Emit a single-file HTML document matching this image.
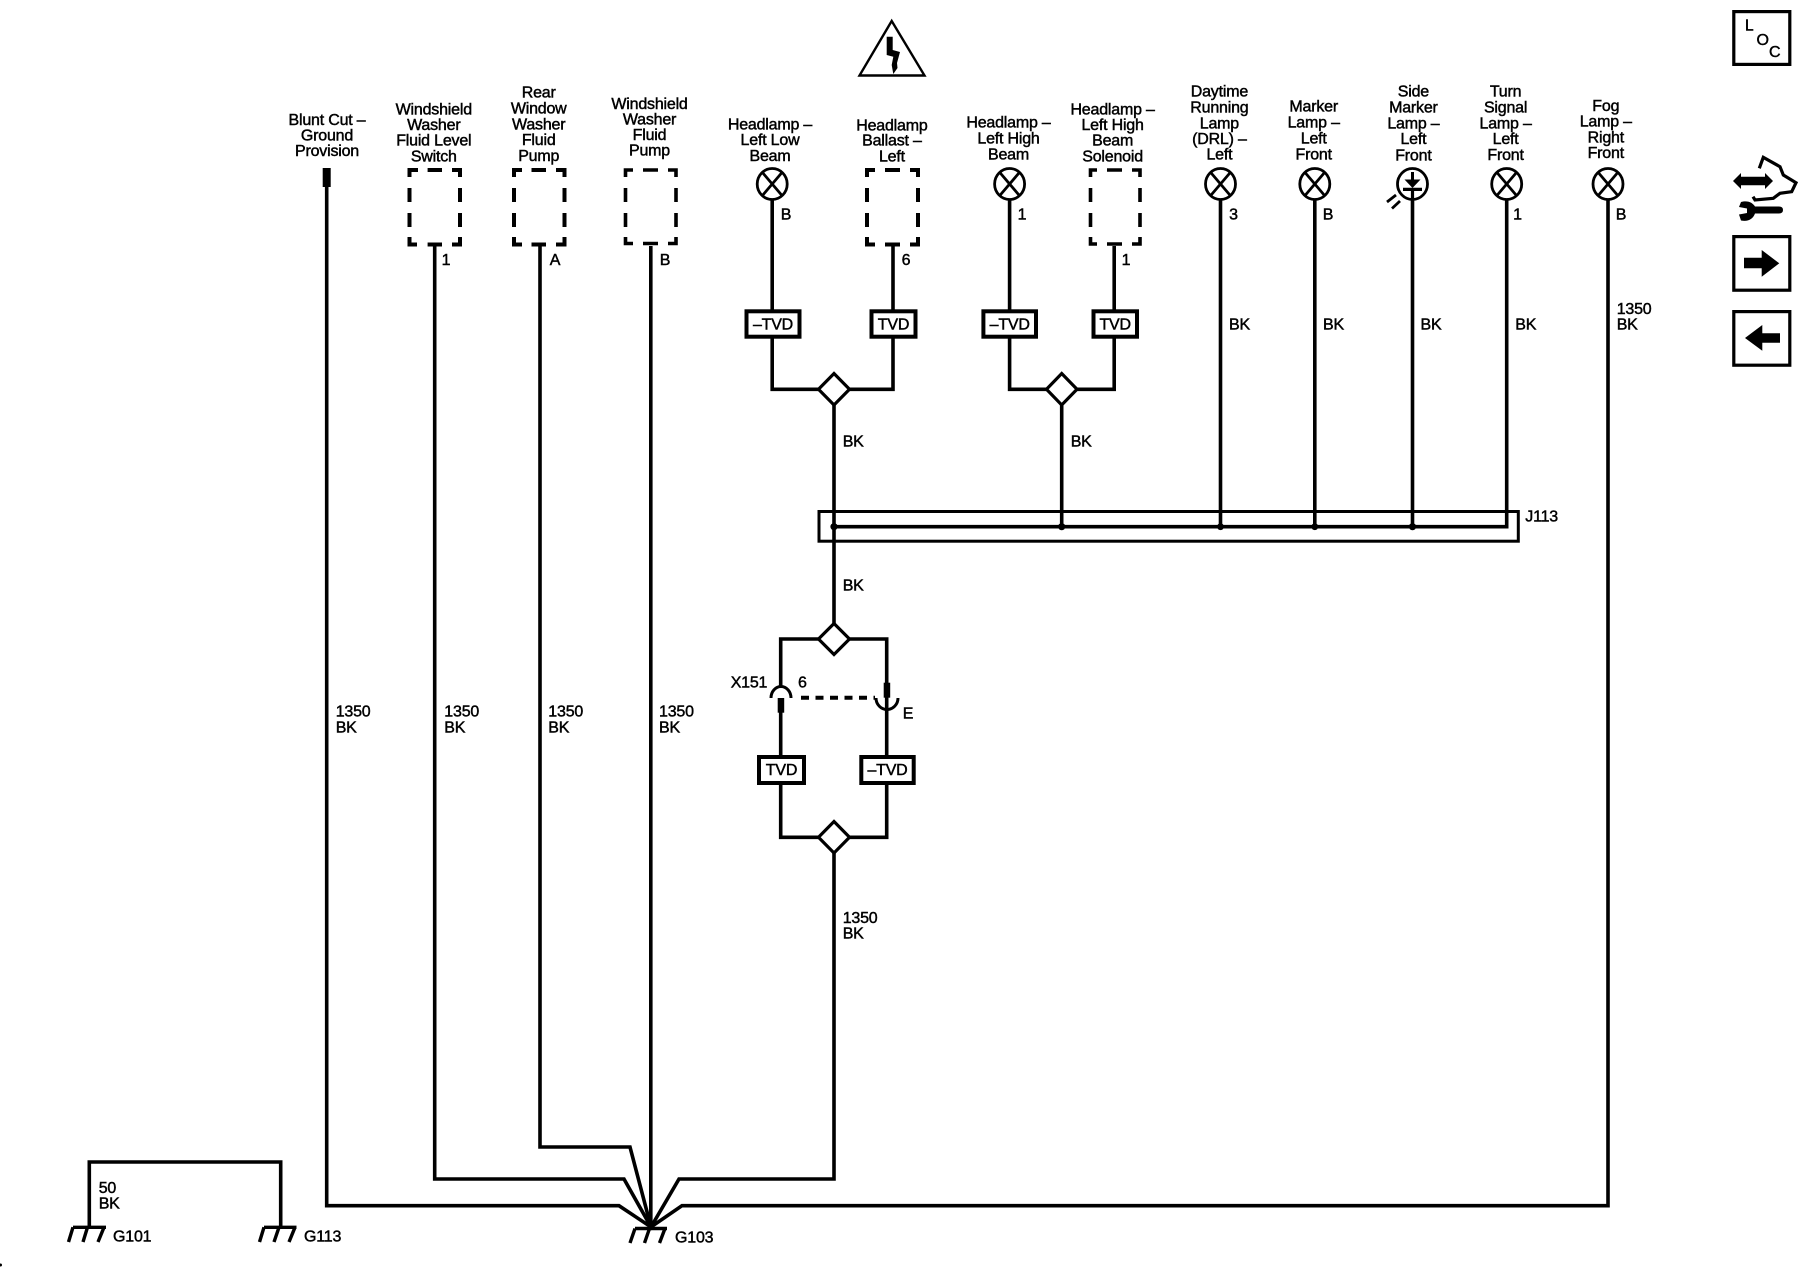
<!DOCTYPE html>
<html><head><meta charset="utf-8"><style>
html,body{margin:0;padding:0;background:#fff}
svg{display:block}
text{font-family:"Liberation Sans",sans-serif;font-size:16px;fill:#000;stroke:#000;stroke-width:.45;letter-spacing:-.2px}
.c{text-anchor:middle}
.w{fill:none;stroke:#000;stroke-width:3.6;stroke-linejoin:miter}
.b{fill:#fff;stroke:#000;stroke-width:4}
.d{fill:#fff;stroke:#000;stroke-width:3.2}
.t{fill:none;stroke:#000;stroke-width:3.2}
.lamp{fill:#fff;stroke:#000;stroke-width:2.8}
</style></head><body>
<svg width="1800" height="1280" viewBox="0 0 1800 1280" xmlns="http://www.w3.org/2000/svg">
<rect width="1800" height="1280" fill="#fff"/>

<!-- main wires -->
<path class="w" d="M326.7 170V1205.7H619L651 1227L682 1205.7H1608V184"/>
<path class="w" d="M434.7 246V1179H624L651 1227L679 1179H834V837"/>
<path class="w" d="M540 246V1147H630L651 1227"/>
<path class="w" d="M650.8 246V1227"/>
<path class="w" d="M772.2 184V389.3H893V246"/>
<path class="w" d="M1009.6 184V389.3H1114.2V246"/>
<path class="w" d="M834 389.3V639"/>
<path class="w" d="M1061.7 389.3V526.7"/>
<path class="w" d="M1220.5 184V526.7M1314.8 184V526.7M1412.5 184V526.7"/>
<path class="w" d="M1506.7 184V526.7H834"/>
<path class="w" d="M780.7 700V639H886.7V700M780.7 700V837.3H886.7V700"/>
<path class="w" d="M89.3 1227V1162H280.7V1227"/>

<!-- J113 -->
<rect x="819" y="511.5" width="699.3" height="29.7" fill="none" stroke="#000" stroke-width="3"/>
<circle cx="834" cy="526.7" r="3.6"/><circle cx="1061.7" cy="526.7" r="3.6"/><circle cx="1220.5" cy="526.7" r="3.4"/><circle cx="1314.8" cy="526.7" r="3.4"/><circle cx="1412.5" cy="526.7" r="3.6"/>

<!-- blunt cut -->
<rect x="322.7" y="168" width="8" height="19"/>

<!-- dashed boxes -->
<path class="t" style="stroke-width:4" d="M409.5 177V170H418M427.6 170H442M452 170H460V177M409.5 188V202M409.5 213V227M409.5 237V244.5H417M427.6 244.5H442M452 244.5H460V237M460 188V202M460 213V227"/>
<path class="t" style="stroke-width:4" d="M514 177V170H522M531.5 170H546M556 170H564.5V177M514 188V202M514 213V227M514 237V244.5H522M531.5 244.5H546M556 244.5H564.5V237M564.5 188V202M564.5 213V227"/>
<path class="t" style="stroke-width:3.6" d="M625.5 177V170H633M643 170H658M668 170H676V177M625.5 188V202M625.5 213V227M625.5 237V243.5H633M643 243.5H658M668 243.5H676V237M676 188V202M676 213V227"/>
<path class="t" style="stroke-width:4" d="M867 177V170H875M885 170H900M910 170H918V177M867 188V202M867 213V227M867 237V244.5H875M885 244.5H900M910 244.5H918V237M918 188V202M918 213V227"/>
<path class="t" style="stroke-width:3.6" d="M1090.5 177V170H1097M1107 170H1122M1132 170H1140V177M1090.5 188V202M1090.5 213V227M1090.5 237V244H1097M1107 244H1122M1132 244H1140V237M1140 188V202M1140 213V227"/>

<!-- lamps -->
<g class="lamp">
<ellipse cx="772.2" cy="184" rx="15" ry="15.5"/><path d="M762 172L782.4 196M782.4 172L762 196"/>
<ellipse cx="1009.6" cy="184" rx="15" ry="15.5"/><path d="M999.4 172L1019.8 196M1019.8 172L999.4 196"/>
<ellipse cx="1220.5" cy="184" rx="15" ry="15.5"/><path d="M1210.3 172L1230.7 196M1230.7 172L1210.3 196"/>
<ellipse cx="1314.8" cy="184" rx="15" ry="15.5"/><path d="M1304.6 172L1325 196M1325 172L1304.6 196"/>
<ellipse cx="1506.7" cy="184" rx="15" ry="15.5"/><path d="M1496.5 172L1516.9 196M1516.9 172L1496.5 196"/>
<ellipse cx="1608" cy="184" rx="15" ry="15.5"/><path d="M1597.8 172L1618.2 196M1618.2 172L1597.8 196"/>
<ellipse cx="1412.5" cy="184" rx="15" ry="15.5"/>
</g>
<path d="M1412.5 172V181" stroke="#000" stroke-width="3"/>
<path d="M1404.5 179.5H1420.5L1412.5 188Z"/>
<path d="M1403 189.4H1422M1412.5 189V199" stroke="#000" stroke-width="3.2" fill="none"/>
<path d="M1387 202L1396 195M1392 208.5L1400 201" stroke="#000" stroke-width="2.8" fill="none"/>

<!-- TVD boxes -->
<g class="b">
<rect x="746.5" y="311.3" width="53" height="25.4"/>
<rect x="871.5" y="311.3" width="44" height="25.4"/>
<rect x="983.4" y="311.3" width="52.6" height="25.4"/>
<rect x="1093.5" y="311.3" width="43.5" height="25.4"/>
<rect x="759" y="757" width="45" height="26"/>
<rect x="861.3" y="757" width="52.4" height="26"/>
</g>
<g class="d">
<path d="M834 373.5L849.5 389.3L834 405L818.5 389.3Z"/>
<path d="M1061.7 373.5L1077 389.3L1061.7 405L1046.5 389.3Z"/>
<path d="M834 623.5L849.5 639L834 654.5L818.5 639Z"/>
<path d="M834 821.5L849.5 837.3L834 853L818.5 837.3Z"/>
</g>

<!-- connector X151 -->
<rect x="777.7" y="697.7" width="6.5" height="15"/>
<rect x="883.7" y="682.7" width="6.5" height="15"/>
<path d="M771 698A10 11.5 0 0 1 791 698" fill="#fff" stroke="#000" stroke-width="3"/>
<path d="M876 698A11 11.5 0 0 0 898 698" fill="none" stroke="#000" stroke-width="3"/>
<path d="M801 697.7H875" stroke="#000" stroke-width="4" stroke-dasharray="8 6.5" fill="none"/>

<!-- grounds -->
<g fill="none" stroke="#000" stroke-width="3.4">
<path d="M73 1227.3H106M73 1227.3L68.5 1242M87.5 1227.3L83 1242M104 1227.3L98 1242"/>
<path d="M264 1227.3H296.5M264 1227.3L259.5 1242M279 1227.3L274 1242M295 1227.3L289 1242"/>
<path d="M635 1228.5H667M635 1228.5L630 1243M649.5 1228.5L644.5 1243M665 1228.5L659.5 1243"/>
</g>
<circle cx="0.5" cy="1265" r="1.5"/>

<!-- warning triangle -->
<path d="M891.7 21L924.5 75.5H859.5Z" fill="none" stroke="#000" stroke-width="2.4"/>
<path d="M886.7 36.7H892.7V50L900 52L897 63L897.5 68L893.3 74L891.7 65L893.3 56.7L886.7 55Z"/>

<!-- right icons -->
<g fill="none" stroke="#000" stroke-width="3.2">
<rect x="1733.8" y="11.6" width="56" height="52.8"/>
<rect x="1733.8" y="236.6" width="56" height="53.6"/>
<rect x="1733.8" y="311.6" width="56" height="53.6"/>
</g>
<path d="M1744 257.7H1761.7V250L1779.3 263.3L1761.7 276.7V268.3H1744Z"/>
<path d="M1780 333.3H1762.3V325L1745 338L1762.3 350.7V342.7H1780Z"/>
<path d="M1733 181L1741 173V176.7H1765V173L1773 181L1765 189V185.3H1741V189Z"/>
<path d="M1759.3 168.3L1763.3 157.3L1780 166.7L1783.3 175L1796 182.7L1791.7 191.7L1780 193.3L1773.3 198.3L1755 200L1753 196.7" fill="none" stroke="#000" stroke-width="3.2"/>
<path d="M1741 202C1748 200 1753 203 1755 206.5H1779Q1783 206.5 1783 210Q1783 213.5 1779 213.5H1755C1753 219 1748 222 1741 220.5L1739 214.5L1747 213V208.5L1739 207Z"/>
<text x="1745" y="30.5" style="font-size:15.5px">L</text>
<text x="1756.5" y="45" style="font-size:16px">O</text>
<text x="1769" y="57" style="font-size:16px">C</text>

<!-- component labels -->
<g class="c">
<text class="c" x="327" y="125">Blunt Cut –</text><text class="c" x="327" y="140.7">Ground</text><text class="c" x="327" y="156">Provision</text>
<text class="c" x="433.8" y="114.3">Windshield</text><text class="c" x="433.8" y="130">Washer</text><text class="c" x="433.8" y="145.7">Fluid Level</text><text class="c" x="433.8" y="161.7">Switch</text>
<text class="c" x="538.7" y="97.3">Rear</text><text class="c" x="538.7" y="113.7">Window</text><text class="c" x="538.7" y="129.3">Washer</text><text class="c" x="538.7" y="145">Fluid</text><text class="c" x="538.7" y="161">Pump</text>
<text class="c" x="649.5" y="109">Windshield</text><text class="c" x="649.5" y="124.3">Washer</text><text class="c" x="649.5" y="140">Fluid</text><text class="c" x="649.5" y="155.7">Pump</text>
<text class="c" x="770" y="129.3">Headlamp –</text><text class="c" x="770" y="145">Left Low</text><text class="c" x="770" y="161">Beam</text>
<text class="c" x="891.9" y="130.7">Headlamp</text><text class="c" x="891.9" y="145.7">Ballast –</text><text class="c" x="891.9" y="161.7">Left</text>
<text class="c" x="1008.5" y="127.7">Headlamp –</text><text class="c" x="1008.5" y="143.3">Left High</text><text class="c" x="1008.5" y="159.3">Beam</text>
<text class="c" x="1112.6" y="114.3">Headlamp –</text><text class="c" x="1112.6" y="130">Left High</text><text class="c" x="1112.6" y="145.7">Beam</text><text class="c" x="1112.6" y="161.7">Solenoid</text>
<text class="c" x="1219.4" y="96.7">Daytime</text><text class="c" x="1219.4" y="112.7">Running</text><text class="c" x="1219.4" y="128.3">Lamp</text><text class="c" x="1219.4" y="144">(DRL) –</text><text class="c" x="1219.4" y="159.3">Left</text>
<text class="c" x="1313.7" y="111.7">Marker</text><text class="c" x="1313.7" y="127.7">Lamp –</text><text class="c" x="1313.7" y="143.3">Left</text><text class="c" x="1313.7" y="159.3">Front</text>
<text class="c" x="1413.4" y="96.7">Side</text><text class="c" x="1413.4" y="112.7">Marker</text><text class="c" x="1413.4" y="128.3">Lamp –</text><text class="c" x="1413.4" y="144">Left</text><text class="c" x="1413.4" y="160.7">Front</text>
<text class="c" x="1505.6" y="96.7">Turn</text><text class="c" x="1505.6" y="112.7">Signal</text><text class="c" x="1505.6" y="128.3">Lamp –</text><text class="c" x="1505.6" y="144">Left</text><text class="c" x="1505.6" y="160">Front</text>
<text class="c" x="1605.8" y="111">Fog</text><text class="c" x="1605.8" y="126.7">Lamp –</text><text class="c" x="1605.8" y="142.3">Right</text><text class="c" x="1605.8" y="158">Front</text>

<!-- pins -->
<text class="c" x="786" y="219.3">B</text>
<text class="c" x="446" y="265">1</text>
<text class="c" x="555" y="265">A</text>
<text class="c" x="665" y="265">B</text>
<text class="c" x="906" y="265">6</text>
<text class="c" x="1022" y="219.3">1</text>
<text class="c" x="1126" y="265">1</text>
<text class="c" x="1233.5" y="219.3">3</text>
<text class="c" x="1328" y="219.3">B</text>
<text class="c" x="1517.5" y="219.3">1</text>
<text class="c" x="1621" y="219.3">B</text>

<!-- TVD text -->
<text class="c" x="773" y="329.3">–TVD</text>
<text class="c" x="893.5" y="329.3">TVD</text>
<text class="c" x="1009.7" y="329.3">–TVD</text>
<text class="c" x="1115.2" y="329.3">TVD</text>
<text class="c" x="781.5" y="775">TVD</text>
<text class="c" x="887.5" y="775">–TVD</text>
</g>

<!-- wire labels -->
<text x="1229" y="329.3">BK</text>
<text x="1323" y="329.3">BK</text>
<text x="1420.5" y="329.3">BK</text>
<text x="1515.3" y="329.3">BK</text>
<text x="1616.7" y="314">1350</text><text x="1616.7" y="329.3">BK</text>
<text x="842.7" y="446.7">BK</text>
<text x="1070.7" y="446.7">BK</text>
<text x="842.7" y="590.7">BK</text>
<text x="1525.3" y="521.7">J113</text>
<text x="730.7" y="687.3">X151</text>
<text x="798" y="687.3">6</text>
<text x="902.7" y="718.7">E</text>
<text x="842.7" y="923">1350</text><text x="842.7" y="938.7">BK</text>
<text x="335.7" y="716.7">1350</text><text x="335.7" y="732.3">BK</text>
<text x="444.3" y="716.7">1350</text><text x="444.3" y="732.3">BK</text>
<text x="548.3" y="716.7">1350</text><text x="548.3" y="732.3">BK</text>
<text x="659" y="716.7">1350</text><text x="659" y="732.3">BK</text>
<text x="98.7" y="1193">50</text><text x="98.7" y="1208.7">BK</text>
<text x="113" y="1241.7">G101</text>
<text x="304" y="1241.7">G113</text>
<text x="675" y="1242.7">G103</text>
</svg>
</body></html>
